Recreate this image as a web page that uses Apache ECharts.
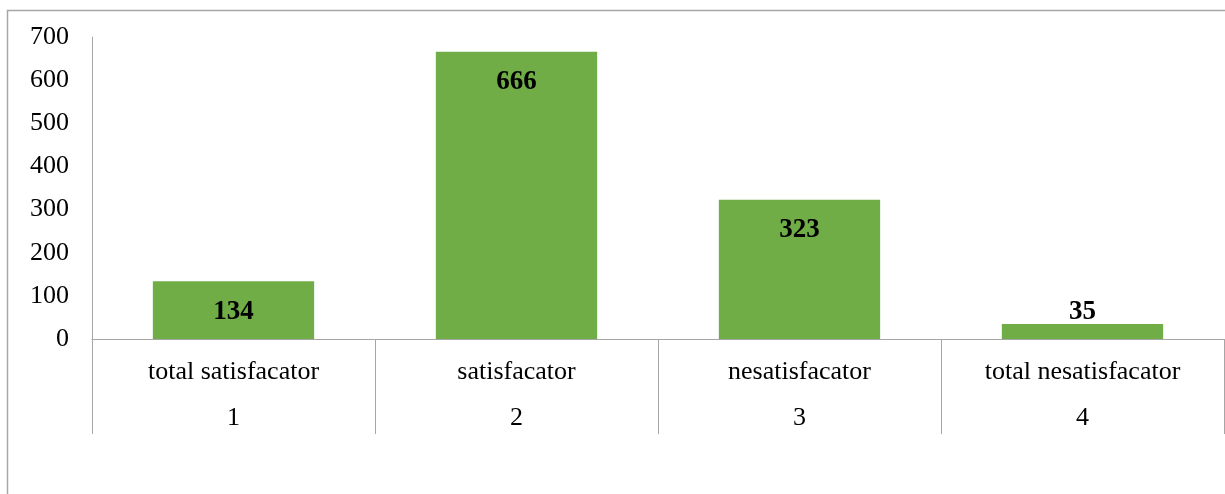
<!DOCTYPE html>
<html><head><meta charset="utf-8">
<script src="https://cdn.jsdelivr.net/npm/echarts@6/dist/echarts.min.js"></script>
<style>html,body{margin:0;padding:0;background:#fff}#c{width:1225px;height:494px}</style>
</head><body><div id="c"></div>
<script>
const categories = ['total satisfacator', 'satisfacator', 'nesatisfacator', 'total nesatisfacator'];
const categoryNumbers = ['1', '2', '3', '4'];
const values = [134, 666, 323, 35];
const yTicks = [0, 100, 200, 300, 400, 500, 600, 700];

const chart = echarts.init(document.getElementById('c'), null, {renderer: 'canvas'});
const font = '"Liberation Serif", "Times New Roman", serif';
chart.setOption({
  animation: false,
  graphic: [{
    type: 'rect', shape: {x: 7.5, y: 10.5, width: 1240, height: 520},
    style: {fill: 'none', stroke: '#a6a6a6', lineWidth: 1.5}, silent: true, z: -1
  }],
  grid: {left: 92, right: 1, top: 37, bottom: 155},
  xAxis: {
    type: 'category',
    data: categories.map((c, i) => c + '\n' + categoryNumbers[i]),
    axisLine: {lineStyle: {color: '#a6a6a6', width: 1}},
    axisTick: {show: true, length: 95, lineStyle: {color: '#a6a6a6'}},
    axisLabel: {
      margin: 10, interval: 0,
      fontFamily: font, fontSize: 26, color: '#000', lineHeight: 46
    }
  },
  yAxis: {
    type: 'value', min: yTicks[0], max: yTicks[yTicks.length - 1], interval: 100,
    axisLine: {show: true, lineStyle: {color: '#a6a6a6', width: 1}},
    axisTick: {show: false},
    splitLine: {show: false},
    axisLabel: {margin: 23, fontFamily: font, fontSize: 26, color: '#000'}
  },
  series: [{
    type: 'bar',
    data: values.map(v => ({
      value: v,
      label: v < 60 ? {position: 'top', distance: -2} : {position: 'insideTop', distance: 17}
    })),
    barWidth: '57%',
    itemStyle: {color: '#70AD47'},
    label: {show: true, fontFamily: font, fontSize: 27, fontWeight: 'bold', color: '#000'}
  }]
});
</script></body></html>
